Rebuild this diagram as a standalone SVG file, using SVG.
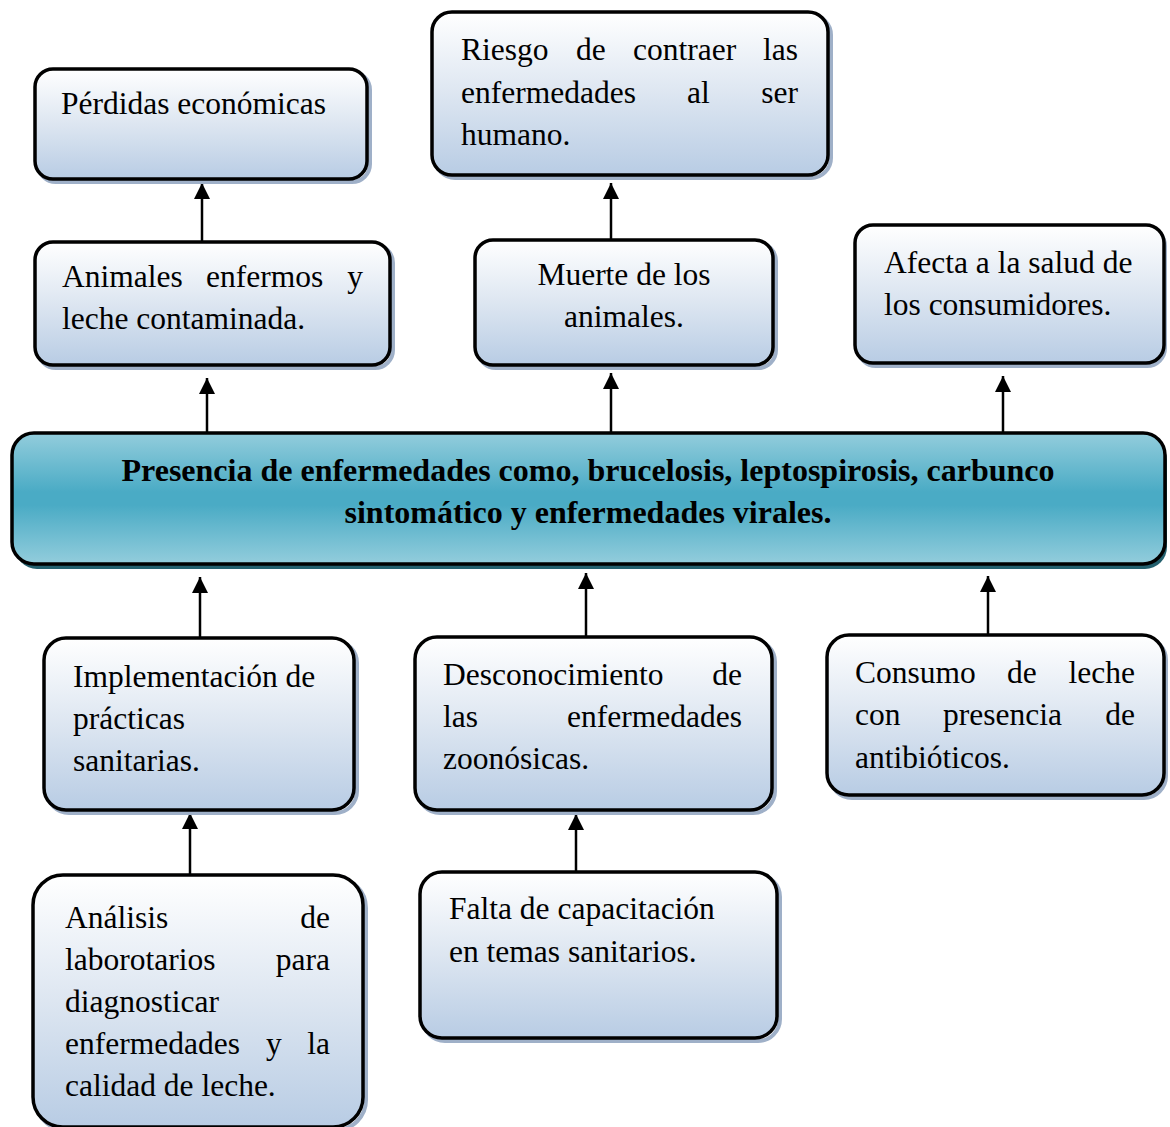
<svg xmlns="http://www.w3.org/2000/svg" width="1170" height="1127" viewBox="0 0 1170 1127">
<style>
.box{fill:url(#gBox);stroke:#000;stroke-width:3.5}
.sh{fill:none;stroke:#9fb0c8;stroke-width:4}
.t{font-family:"Liberation Serif","Times New Roman",serif;font-size:31.5px;fill:#000}
.b{font-weight:bold;font-size:32px}
.e{text-anchor:end}
.m{text-anchor:middle}
.c{stroke:#000;stroke-width:2.5;fill:none;marker-end:url(#ah)}
</style>
<defs>
<linearGradient id="gBox" x1="0" y1="0" x2="0" y2="1">
<stop offset="0" stop-color="#ffffff"/>
<stop offset="0.5" stop-color="#dde6f1"/>
<stop offset="1" stop-color="#b8cce4"/>
</linearGradient>
<linearGradient id="gMain" x1="0" y1="0" x2="0" y2="1">
<stop offset="0" stop-color="#93cddc"/>
<stop offset="0.45" stop-color="#4aabc5"/>
<stop offset="0.55" stop-color="#4aabc5"/>
<stop offset="1" stop-color="#93cddc"/>
</linearGradient>
<marker id="ah" markerUnits="userSpaceOnUse" markerWidth="16" markerHeight="18" viewBox="0 0 16 18" refX="16" refY="8" orient="auto">
<path d="M0,0 L16,8 L0,16 Z" fill="#000"/>
</marker>
</defs>

<g id="connectors">
<line class="c" x1="202" y1="242" x2="202" y2="183"/>
<line class="c" x1="611" y1="240" x2="611" y2="183"/>
<line class="c" x1="207" y1="433" x2="207" y2="378"/>
<line class="c" x1="611" y1="433" x2="611" y2="373"/>
<line class="c" x1="1003" y1="433" x2="1003" y2="376"/>
<line class="c" x1="200" y1="638" x2="200" y2="577"/>
<line class="c" x1="586" y1="636" x2="586" y2="573"/>
<line class="c" x1="988" y1="635" x2="988" y2="576"/>
<line class="c" x1="190" y1="875" x2="190" y2="813"/>
<line class="c" x1="576" y1="872" x2="576" y2="814"/>
</g>

<g id="n-perdidas">
<rect class="sh" x="38" y="72" width="332" height="110" rx="18"/>
<rect class="box" x="35" y="69" width="332" height="110" rx="18"/>
<text class="t" x="61" y="114">Pérdidas económicas</text>
</g>

<g id="n-animales">
<rect class="sh" x="38" y="245" width="355" height="123" rx="18"/>
<rect class="box" x="35" y="242" width="355" height="123" rx="18"/>
<text class="t" x="62" y="287">Animales</text>
<text class="t" x="206" y="287">enfermos</text>
<text class="t e" x="363" y="287">y</text>
<text class="t" x="62" y="329">leche contaminada.</text>
</g>

<g id="n-riesgo">
<rect class="sh" x="435" y="15" width="396" height="163" rx="20"/>
<rect class="box" x="432" y="12" width="396" height="163" rx="20"/>
<text class="t" x="461" y="60">Riesgo</text>
<text class="t" x="576" y="60">de</text>
<text class="t" x="633" y="60">contraer</text>
<text class="t e" x="798" y="60">las</text>
<text class="t" x="461" y="103">enfermedades</text>
<text class="t" x="687" y="103">al</text>
<text class="t e" x="798" y="103">ser</text>
<text class="t" x="461" y="145">humano.</text>
</g>

<g id="n-muerte">
<rect class="sh" x="478" y="243" width="298" height="125" rx="18"/>
<rect class="box" x="475" y="240" width="298" height="125" rx="18"/>
<text class="t m" x="624" y="285">Muerte de los</text>
<text class="t m" x="624" y="327">animales.</text>
</g>

<g id="n-afecta">
<rect class="sh" x="858" y="228" width="307" height="138" rx="18"/>
<rect class="box" x="855" y="225" width="309" height="138" rx="18"/>
<text class="t" x="884" y="273">Afecta a la salud de</text>
<text class="t" x="884" y="315">los consumidores.</text>
</g>

<g id="n-central">
<rect x="15" y="438" width="1152" height="131" rx="22" fill="#23606e"/>
<rect x="12" y="433" width="1153" height="131" rx="22" fill="url(#gMain)" stroke="#000" stroke-width="3.5"/>
<text class="t b m" x="588" y="481">Presencia de enfermedades como, brucelosis, leptospirosis, carbunco</text>
<text class="t b m" x="588" y="523">sintomático y enfermedades virales.</text>
</g>

<g id="n-implementacion">
<rect class="sh" x="47" y="641" width="310" height="172" rx="22"/>
<rect class="box" x="44" y="638" width="310" height="172" rx="22"/>
<text class="t" x="73" y="687">Implementación de</text>
<text class="t" x="73" y="729">prácticas</text>
<text class="t" x="73" y="771">sanitarias.</text>
</g>

<g id="n-desconocimiento">
<rect class="sh" x="418" y="640" width="357" height="173" rx="22"/>
<rect class="box" x="415" y="637" width="357" height="173" rx="22"/>
<text class="t" x="443" y="685">Desconocimiento</text>
<text class="t e" x="742" y="685">de</text>
<text class="t" x="443" y="727">las</text>
<text class="t e" x="742" y="727">enfermedades</text>
<text class="t" x="443" y="769">zoonósicas.</text>
</g>

<g id="n-consumo">
<rect class="sh" x="830" y="638" width="336" height="160" rx="22"/>
<rect class="box" x="827" y="635" width="337" height="160" rx="22"/>
<text class="t" x="855" y="683">Consumo</text>
<text class="t" x="1007" y="683">de</text>
<text class="t e" x="1135" y="683">leche</text>
<text class="t" x="855" y="725">con</text>
<text class="t" x="943" y="725">presencia</text>
<text class="t e" x="1135" y="725">de</text>
<text class="t" x="855" y="768">antibióticos.</text>
</g>

<g id="n-analisis">
<rect class="sh" x="36" y="878" width="330" height="252" rx="30"/>
<rect class="box" x="33" y="875" width="330" height="252" rx="30"/>
<text class="t" x="65" y="928">Análisis</text>
<text class="t e" x="330" y="928">de</text>
<text class="t" x="65" y="970">laborotarios</text>
<text class="t e" x="330" y="970">para</text>
<text class="t" x="65" y="1012">diagnosticar</text>
<text class="t" x="65" y="1054">enfermedades</text>
<text class="t" x="266" y="1054">y</text>
<text class="t e" x="330" y="1054">la</text>
<text class="t" x="65" y="1096">calidad de leche.</text>
</g>

<g id="n-falta">
<rect class="sh" x="423" y="875" width="357" height="166" rx="22"/>
<rect class="box" x="420" y="872" width="357" height="166" rx="22"/>
<text class="t" x="449" y="919">Falta de capacitación</text>
<text class="t" x="449" y="962">en temas sanitarios.</text>
</g>
</svg>
